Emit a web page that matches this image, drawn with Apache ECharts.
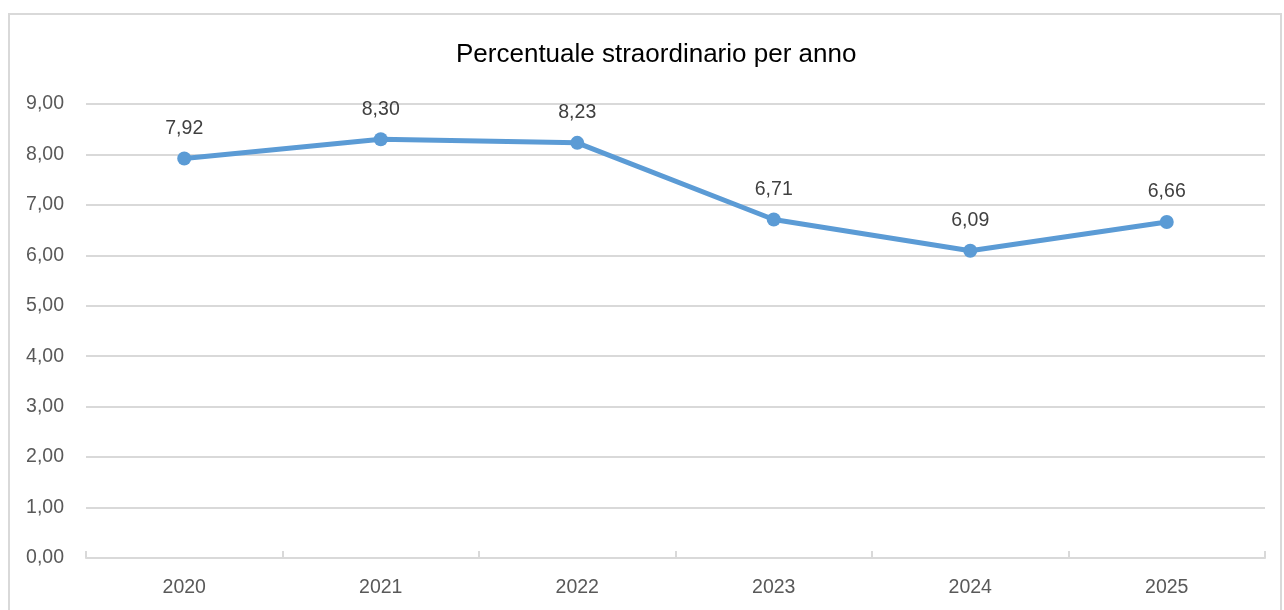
<!DOCTYPE html>
<html>
<head>
<meta charset="utf-8">
<script src="https://cdn.jsdelivr.net/npm/echarts@6/dist/echarts.min.js"></script>
<style>
  html, body { margin: 0; padding: 0; background: #fff; }
  #chart { width: 1284px; height: 610px; }
</style>
</head>
<body>
<div id="chart"></div>
<script>
// dati
const anni = ["2020", "2021", "2022", "2023", "2024", "2025"];
const percentuali = [7.92, 8.30, 8.23, 6.71, 6.09, 6.66];
const titolo = "Percentuale straordinario per anno";

const fontNarrow = "'Liberation Sans Narrow', 'Arial Narrow', 'Liberation Sans', sans-serif";
const virgola = v => Number(v).toFixed(2).replace(".", ",");

let myChart = echarts.init(document.getElementById("chart"));
let option = {
  backgroundColor: "#fff",
  animation: false,
  title: {
    text: titolo,
    left: 451,
    top: 37,
    textStyle: { fontFamily: fontNarrow, fontSize: 26, fontWeight: "normal", color: "#000" },
  },
  graphic: [
    {
      type: "rect",
      shape: { x: 9, y: 14, width: 1272, height: 640 },
      style: { fill: "none", stroke: "#d9d9d9", lineWidth: 2 },
      silent: true,
    },
  ],
  grid: { left: 86, right: 19, top: 104, bottom: 52 },
  xAxis: {
    type: "category",
    data: anni,
    boundaryGap: true,
    axisLine: { lineStyle: { color: "#d9d9d9", width: 2 } },
    axisTick: { show: true, inside: true, length: 7, lineStyle: { color: "#d9d9d9", width: 2 } },
    axisLabel: { fontFamily: fontNarrow, fontSize: 19.5, color: "#595959", margin: 20 },
  },
  yAxis: {
    type: "value",
    min: 0,
    max: 9,
    interval: 1,
    axisLine: { show: false },
    axisTick: { show: false },
    splitLine: { lineStyle: { color: "#d9d9d9", width: 2 } },
    axisLabel: { fontFamily: fontNarrow, fontSize: 19.5, color: "#595959", margin: 22, formatter: virgola },
  },
  series: [
    {
      type: "line",
      data: percentuali,
      symbol: "circle",
      symbolSize: 14,
      lineStyle: { color: "#5b9bd5", width: 5 },
      itemStyle: { color: "#5b9bd5" },
      label: {
        show: true,
        position: "top",
        distance: 13,
        fontFamily: fontNarrow,
        fontSize: 19.5,
        color: "#404040",
        formatter: p => virgola(p.value),
      },
    },
  ],
};
option && myChart.setOption(option);
</script>
</body>
</html>
